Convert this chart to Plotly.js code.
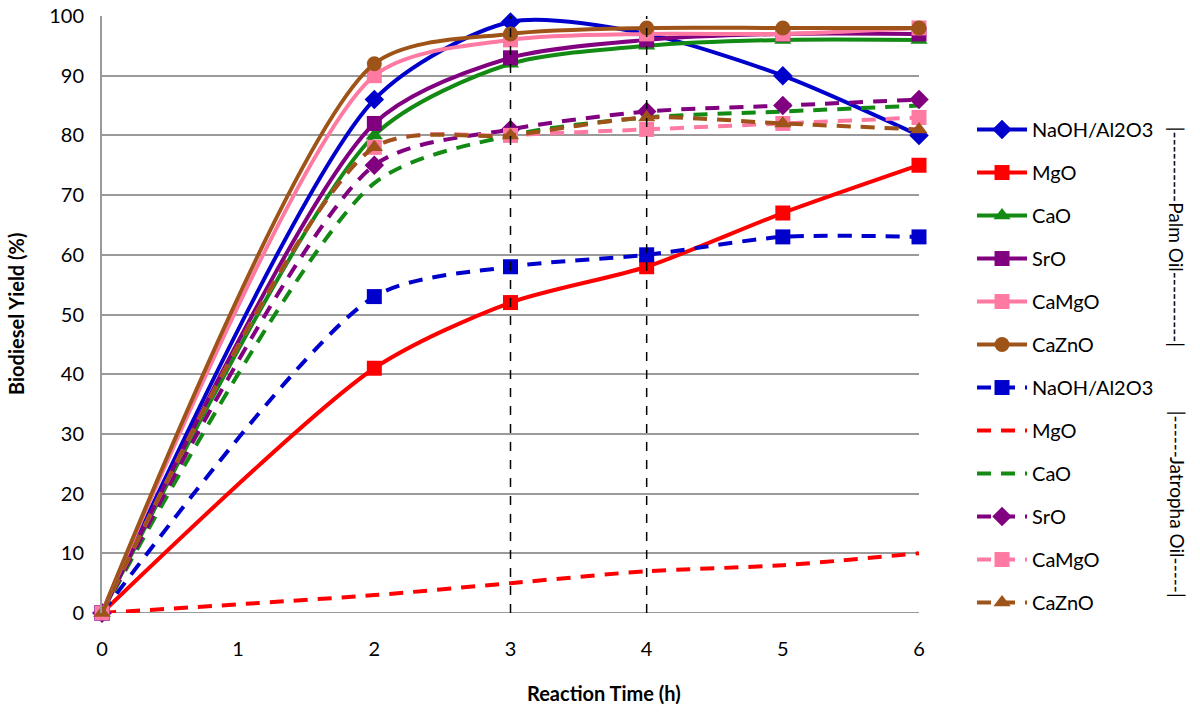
<!DOCTYPE html>
<html>
<head>
<meta charset="utf-8">
<script src="https://cdn.plot.ly/plotly-3.0.1.min.js"></script>
<style>html,body{margin:0;padding:0;background:#fff;}#chart{width:1200px;height:712px;}</style>
</head>
<body>
<div id="chart"></div>
<script>
// Reaction time (h)
const times = [0, 2, 3, 4, 5, 6];

// Palm oil yields (%)
const palmNaOH  = [0, 86, 99, 97, 90, 80];
const palmMgO   = [0, 41, 52, 58, 67, 75];
const palmCaO   = [0, 80, 92, 95, 96, 96];
const palmSrO   = [0, 82, 93, 96, 97, 97];
const palmCaMgO = [0, 90, 96, 97, 97, 98];
const palmCaZnO = [0, 92, 97, 98, 98, 98];

// Jatropha oil yields (%)
const jatNaOH  = [0, 53, 58, 60, 63, 63];
const jatMgO   = [0, 3, 5, 7, 8, 10];
const jatCaO   = [0, 72, 80, 83, 84, 85];
const jatSrO   = [0, 75, 81, 84, 85, 86];
const jatCaMgO = [0, 78, 80, 81, 82, 83];
const jatCaZnO = [0, 78, 80, 83, 82, 81];

const seriesNames = ["NaOH/Al2O3", "MgO", "CaO", "SrO", "CaMgO", "CaZnO"];
const xTicks = [0, 1, 2, 3, 4, 5, 6];
const yTicks = [0, 10, 20, 30, 40, 50, 60, 70, 80, 90, 100];
const refTimes = [3, 4];

const colors = ["#0000CC", "#FF0000", "#138A13", "#800080", "#FF7AA2", "#9E5418"];
const palmSymbols = ["diamond", "square", "triangle-up", "square", "square", "circle"];
const jatSymbols = ["square", null, null, "diamond", "square", "triangle-up"];

const palm = [palmNaOH, palmMgO, palmCaO, palmSrO, palmCaMgO, palmCaZnO];
const jat = [jatNaOH, jatMgO, jatCaO, jatSrO, jatCaMgO, jatCaZnO];

const SMOOTH = 0.75;
const traces = [];
palm.forEach((ys, i) => {
  traces.push({
    x: times, y: ys, name: seriesNames[i], type: "scatter",
    mode: "lines+markers", cliponaxis: false,
    legendgroup: "p" + i,
    line: {color: colors[i], width: 4, shape: "spline", smoothing: SMOOTH},
    marker: {symbol: palmSymbols[i], size: 15, color: colors[i]}
  });
});
jat.forEach((ys, i) => {
  const hasMarker = jatSymbols[i] !== null;
  const t = {
    x: times, y: ys, name: seriesNames[i], type: "scatter",
    mode: hasMarker ? "lines+markers" : "lines", cliponaxis: false,
    legendgroup: "j" + i,
    line: {color: colors[i], width: 4, dash: "14px,10px", shape: "spline", smoothing: SMOOTH}
  };
  if (hasMarker) t.marker = {symbol: jatSymbols[i], size: 15, color: colors[i]};
  traces.push(t);
});

const font = "Lato, 'Open Sans', sans-serif";

const layout = {
  width: 1200, height: 712,
  margin: {l: 102, r: 281, t: 16, b: 99},
  paper_bgcolor: "#fff", plot_bgcolor: "#fff",
  font: {family: font, size: 20, color: "#000"},
  showlegend: true,
  legend: {
    x: 1.0649, xanchor: "left", y: 0.8425, yanchor: "top",
    font: {family: font, size: 20, color: "#000"},
    itemwidth: 50,
    tracegroupgap: 14, bgcolor: "rgba(0,0,0,0)"
  },
  xaxis: {
    range: [0, 6], tickvals: xTicks, ticks: "", showgrid: false,
    zeroline: false, showline: false, ticklabelstandoff: 22,
    tickfont: {family: font, size: 20}
  },
  yaxis: {
    range: [0, 100], tickvals: yTicks, ticks: "", showgrid: true,
    gridcolor: "#9a9a9a", gridwidth: 2, zeroline: false,
    showline: true, linecolor: "#9a9a9a", linewidth: 2, ticklabelstandoff: 12,
    tickfont: {family: font, size: 20}
  },
  shapes: refTimes.map(t => ({
    type: "line", xref: "x", yref: "y", x0: t, x1: t, y0: 0, y1: 100,
    line: {color: "#000", width: 1.5, dash: "dash"}, layer: "above"
  })).concat([{
    type: "line", xref: "paper", yref: "y", x0: 0, x1: 1, y0: 0, y1: 0,
    line: {color: "#9a9a9a", width: 2}, layer: "below"
  }]),
  annotations: [
    {text: "<b>Biodiesel Yield (%)</b>", xref: "paper", yref: "paper",
     x: -0.1053, y: 0.5008, xanchor: "center", yanchor: "middle",
     textangle: -90, showarrow: false, font: {family: font, size: 20, color: "#000"}},
    {text: "<b>Reaction Time (h)</b>", xref: "paper", yref: "paper",
     x: 0.6144, y: -0.134, xanchor: "center", yanchor: "middle",
     showarrow: false, font: {family: font, size: 20, color: "#000"}},
    {text: "|----------Palm Oil----------|", xref: "paper", yref: "paper",
     x: 1.316, y: 0.6298, xanchor: "center", yanchor: "middle", textangle: 90, showarrow: false,
     font: {family: font, size: 19, color: "#000"}},
    {text: "|------Jatropha Oil-----|", xref: "paper", yref: "paper",
     x: 1.316, y: 0.1826, xanchor: "center", yanchor: "middle", textangle: 90, showarrow: false,
     font: {family: font, size: 19, color: "#000"}}
  ]
};

Plotly.newPlot("chart", traces, layout, {displayModeBar: false, staticPlot: true});
</script>
</body>
</html>
